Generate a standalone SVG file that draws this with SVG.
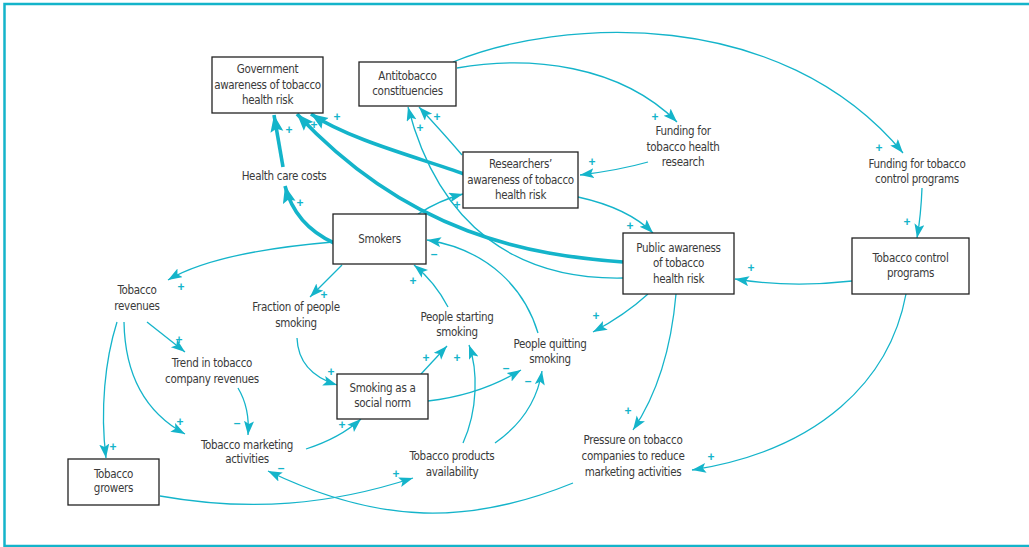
<svg xmlns="http://www.w3.org/2000/svg" width="1029" height="547" viewBox="0 0 1029 547">
<defs>
<style>
.t{font-family:"Liberation Sans Narrow","DejaVu Sans Condensed",sans-serif;font-size:11.5px;letter-spacing:-0.3px;fill:#3a3a3a;text-anchor:middle}
.b{fill:#fff;stroke:#222;stroke-width:1.3}
.c{fill:none;stroke:#14b4ca;stroke-width:1.3}
.k{fill:none;stroke:#14b4ca;stroke-width:3.6}
.s{font-family:"Liberation Sans","DejaVu Sans",sans-serif;font-size:12px;font-weight:bold;fill:#14b4ca;text-anchor:middle}
</style>
<marker id="a" markerUnits="userSpaceOnUse" markerWidth="16" markerHeight="12" refX="14" refY="5" orient="auto"><path d="M0,0 L14,5 L0,10 L3,5 Z" fill="#14b4ca"/></marker>
<marker id="A" markerUnits="userSpaceOnUse" markerWidth="20" markerHeight="14" refX="17" refY="6.5" orient="auto"><path d="M0,0 L17,6.5 L0,13 L3,6.5 Z" fill="#14b4ca"/></marker>
</defs>
<rect width="1029" height="547" fill="#fff"/>
<path d="M1029,4 H4.5 V546 H1029" fill="none" stroke="#14b4ca" stroke-width="2.5"/>

<g id="connectors">
<path class="k" d="M283,167 L274,115" marker-end="url(#A)"/>
<path class="k" d="M334,243 Q295,225 285,186" marker-end="url(#A)"/>
<path class="k" d="M464,174 C420,158 350,140 311,114" marker-end="url(#A)"/>
<path class="k" d="M623,262 C530,255 410,235 297,114" marker-end="url(#A)"/>
<path class="c" d="M453,62 C560,18 780,5 903,153" marker-end="url(#a)"/>
<path class="c" d="M457,68 C530,55 620,65 677,122" marker-end="url(#a)"/>
<path class="c" d="M648,162 Q620,170 580,175" marker-end="url(#a)"/>
<path class="c" d="M462,155 Q445,135 419,107" marker-end="url(#a)"/>
<path class="c" d="M623,278 C520,280 440,230 408,107" marker-end="url(#a)"/>
<path class="c" d="M418,214 Q440,200 463,194" marker-end="url(#a)"/>
<path class="c" d="M578,197 Q628,208 653,233" marker-end="url(#a)"/>
<path class="c" d="M852,281 Q790,288 735,279" marker-end="url(#a)"/>
<path class="c" d="M922,188 Q921,215 917,238" marker-end="url(#a)"/>
<path class="c" d="M906,294 C890,380 820,450 692,470" marker-end="url(#a)"/>
<path class="c" d="M676,294 C672,340 660,390 633,430" marker-end="url(#a)"/>
<path class="c" d="M648,294 Q625,315 593,332" marker-end="url(#a)"/>
<path class="c" d="M538,333 C525,290 490,250 427,240" marker-end="url(#a)"/>
<path class="c" d="M448,307 Q435,282 414,265" marker-end="url(#a)"/>
<path class="c" d="M333,242 Q215,252 168,280" marker-end="url(#a)"/>
<path class="c" d="M342,265 L310,297" marker-end="url(#a)"/>
<path class="c" d="M147,322 L185,352" marker-end="url(#a)"/>
<path class="c" d="M117,322 C105,360 100,410 106,458" marker-end="url(#a)"/>
<path class="c" d="M124,322 C125,380 150,415 185,434" marker-end="url(#a)"/>
<path class="c" d="M238,388 Q250,408 248,435" marker-end="url(#a)"/>
<path class="c" d="M297,338 C298,365 315,378 337,385" marker-end="url(#a)"/>
<path class="c" d="M306,449 Q340,438 361,419" marker-end="url(#a)"/>
<path class="c" d="M421,374 L447,346" marker-end="url(#a)"/>
<path class="c" d="M463,443 C478,410 478,370 469,345" marker-end="url(#a)"/>
<path class="c" d="M428,401 Q480,395 521,370" marker-end="url(#a)"/>
<path class="c" d="M495,443 Q535,415 542,371" marker-end="url(#a)"/>
<path class="c" d="M160,496 C250,512 330,505 413,478" marker-end="url(#a)"/>
<path class="c" d="M573,483 C470,525 380,525 268,471" marker-end="url(#a)"/>
<g class="s">
<text x="289" y="134">+</text>
<text x="300" y="207">+</text>
<text x="337" y="121">+</text>
<text x="314" y="129">+</text>
<text x="879" y="152">+</text>
<text x="655" y="121">+</text>
<text x="592" y="166">+</text>
<text x="437" y="121">+</text>
<text x="420" y="132">+</text>
<text x="457" y="209">+</text>
<text x="630" y="230">+</text>
<text x="751" y="272">+</text>
<text x="907" y="226">+</text>
<text x="711" y="461">+</text>
<text x="628" y="415">+</text>
<text x="596" y="320">+</text>
<text x="434" y="258">–</text>
<text x="413" y="285">+</text>
<text x="181" y="291">+</text>
<text x="324" y="299">+</text>
<text x="179" y="344">+</text>
<text x="113" y="451">+</text>
<text x="180" y="426">+</text>
<text x="237" y="427">–</text>
<text x="331" y="376">+</text>
<text x="342" y="429">+</text>
<text x="426" y="362">+</text>
<text x="457" y="362">+</text>
<text x="506" y="372">–</text>
<text x="528" y="385">–</text>
<text x="396" y="478">+</text>
<text x="281" y="472">–</text>
</g>
</g>

<g id="gov"><rect class="b" x="212" y="57" width="111" height="56"/><text class="t"><tspan x="267.5" y="73">Government</tspan><tspan x="267.5" y="89">awareness of tobacco</tspan><tspan x="267.5" y="104">health risk</tspan></text></g>
<g id="anti"><rect class="b" x="359" y="62" width="97" height="44"/><text class="t"><tspan x="407.5" y="80">Antitobacco</tspan><tspan x="407.5" y="95">constituencies</tspan></text></g>
<g id="res"><rect class="b" x="463" y="152" width="115" height="56"/><text class="t"><tspan x="520.5" y="168">Researchers’</tspan><tspan x="520.5" y="184">awareness of tobacco</tspan><tspan x="520.5" y="199">health risk</tspan></text></g>
<g id="smokers"><rect class="b" x="333" y="214" width="93" height="50"/><text class="t" x="379.5" y="243">Smokers</text></g>
<g id="public"><rect class="b" x="623" y="233" width="111" height="61"/><text class="t"><tspan x="678.5" y="252">Public awareness</tspan><tspan x="678.5" y="267">of tobacco</tspan><tspan x="678.5" y="283">health risk</tspan></text></g>
<g id="tcp"><rect class="b" x="852" y="238" width="117" height="56"/><text class="t"><tspan x="910.5" y="262">Tobacco control</tspan><tspan x="910.5" y="277">programs</tspan></text></g>
<g id="norm"><rect class="b" x="337" y="374" width="91" height="45"/><text class="t"><tspan x="382.5" y="392">Smoking as a</tspan><tspan x="382.5" y="407">social norm</tspan></text></g>
<g id="growers"><rect class="b" x="68" y="459" width="91" height="46"/><text class="t"><tspan x="113.5" y="478">Tobacco</tspan><tspan x="113.5" y="492">growers</tspan></text></g>

<g id="hcc"><text class="t" x="284" y="180">Health care costs</text></g>
<g id="fres"><text class="t"><tspan x="683" y="135">Funding for</tspan><tspan x="683" y="151">tobacco health</tspan><tspan x="683" y="166">research</tspan></text></g>
<g id="fcp"><text class="t"><tspan x="917" y="168">Funding for tobacco</tspan><tspan x="917" y="183">control programs</tspan></text></g>
<g id="rev"><text class="t"><tspan x="137" y="294">Tobacco</tspan><tspan x="137" y="310">revenues</tspan></text></g>
<g id="frac"><text class="t"><tspan x="296" y="311">Fraction of people</tspan><tspan x="296" y="327">smoking</tspan></text></g>
<g id="trend"><text class="t"><tspan x="212" y="367">Trend in tobacco</tspan><tspan x="212" y="383">company revenues</tspan></text></g>
<g id="start"><text class="t"><tspan x="457" y="321">People starting</tspan><tspan x="457" y="336">smoking</tspan></text></g>
<g id="quit"><text class="t"><tspan x="550" y="348">People quitting</tspan><tspan x="550" y="363">smoking</tspan></text></g>
<g id="mkt"><text class="t"><tspan x="247" y="449">Tobacco marketing</tspan><tspan x="247" y="463">activities</tspan></text></g>
<g id="avail"><text class="t"><tspan x="452" y="460">Tobacco products</tspan><tspan x="452" y="476">availability</tspan></text></g>
<g id="press"><text class="t"><tspan x="633" y="444">Pressure on tobacco</tspan><tspan x="633" y="460">companies to reduce</tspan><tspan x="633" y="476">marketing activities</tspan></text></g>
</svg>
